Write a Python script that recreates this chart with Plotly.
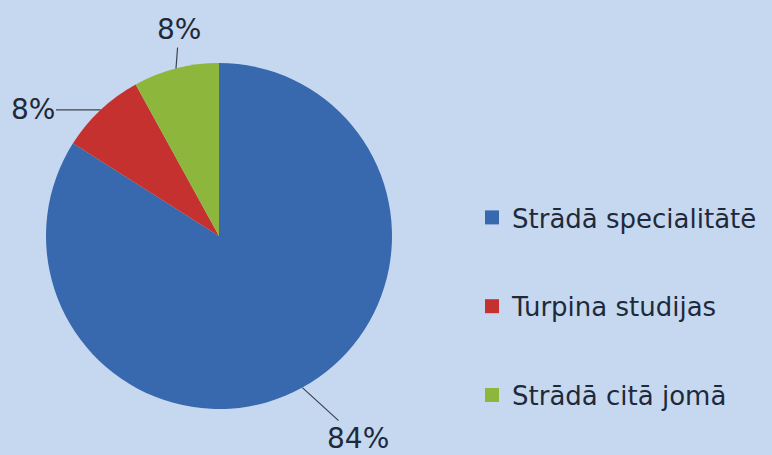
import math
import plotly.graph_objects as go

# Data
labels = ["Strādā specialitātē", "Turpina studijas", "Strādā citā jomā"]
values = [84, 8, 8]
colors = ["#3868ae", "#c5312e", "#8db63c"]

# Layout constants (pixels)
W, H = 772, 455
CX, CY, R = 219, 236, 173
BG = "#c6d8f0"
FONT = "DejaVu Sans"
TEXT_COLOR = "#1e2a3a"
# label offsets (ax, ay) from slice edge in px
label_offsets = [(56, 51), (-68, 0), (3, -39)]

fig = go.Figure()
fig.add_trace(go.Pie(
    labels=labels, values=values, sort=False, direction="clockwise", rotation=0,
    marker=dict(colors=colors, line=dict(width=0)),
    textinfo="none", showlegend=False, hoverinfo="label+percent",
    domain=dict(x=[(CX - R) / W, (CX + R) / W],
                y=[(H - CY - R) / H, (H - CY + R) / H]),
))

# legend entries via dummy traces (to control spacing)
for i, (lab, col) in enumerate(zip(labels, colors)):
    fig.add_trace(go.Scatter(
        x=[None], y=[None], mode="markers", name=lab,
        marker=dict(symbol="square", size=14, color=col),
        legendgroup=f"g{i}", showlegend=True,
    ))

# percentage labels with leader lines
total = sum(values)
cum = 0
annotations = []
for v, (ax, ay) in zip(values, label_offsets):
    mid = (cum + v / 2) / total * 2 * math.pi
    cum += v
    ex = CX + R * math.sin(mid)
    ey = CY - R * math.cos(mid)
    annotations.append(dict(
        x=ex / W, y=1 - ey / H, xref="paper", yref="paper",
        text=f"{round(v / total * 100)}%", showarrow=True,
        arrowhead=0, arrowwidth=1.2, arrowcolor="#3a4450",
        ax=ax, ay=ay, standoff=0,
        font=dict(family=FONT, size=28, color=TEXT_COLOR),
    ))

fig.update_layout(
    width=W, height=H,
    margin=dict(l=0, r=0, t=0, b=0),
    paper_bgcolor=BG, plot_bgcolor=BG,
    xaxis=dict(visible=False), yaxis=dict(visible=False),
    annotations=annotations,
    legend=dict(
        x=472 / W, y=1 - 194 / H, xanchor="left", yanchor="top",
        font=dict(family=FONT, size=26, color=TEXT_COLOR),
        tracegroupgap=52, bgcolor="rgba(0,0,0,0)",
    ),
    showlegend=True,
)

fig.write_html(
    "out.html",
    config={"displayModeBar": False},
    post_script="document.body.style.margin='0';document.body.style.overflow='hidden';",
)
